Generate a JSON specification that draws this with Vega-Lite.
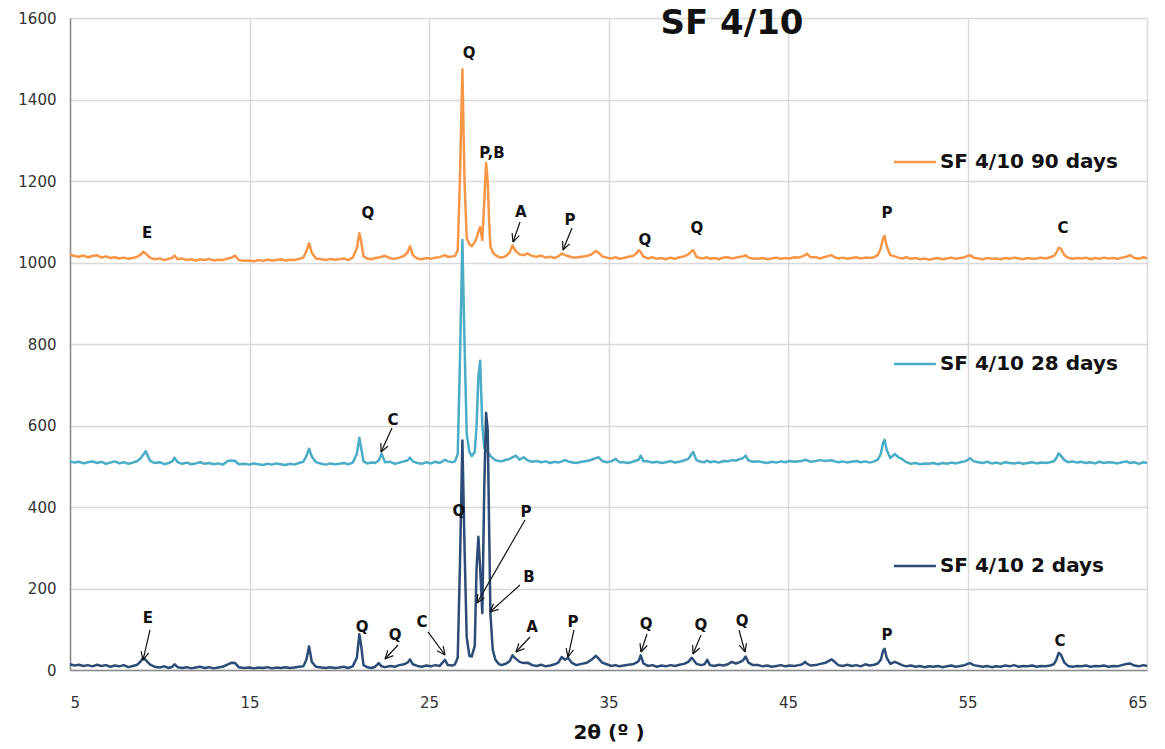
{
  "$schema": "https://vega.github.io/schema/vega-lite/v6.json",
  "width": 1077,
  "height": 652,
  "autosize": {"type": "none"},
  "padding": {"left": 70, "top": 18, "right": 18, "bottom": 79},
  "background": "white",
  "config": {"font": "DejaVu Sans", "view": {"stroke": null}},
  "datasets": {
    "xrd": [
      {"x":5.0,"a":14,"b":512,"c":1020},{"x":5.25,"a":11,"b":509,"c":1016},{"x":5.5,"a":13,"b":511,"c":1014},{"x":5.75,"a":10,"b":507,"c":1017},
      {"x":6.0,"a":12,"b":510,"c":1013},{"x":6.25,"a":9,"b":512,"c":1016},{"x":6.5,"a":13,"b":508,"c":1018},{"x":6.75,"a":10,"b":511,"c":1012},
      {"x":7.0,"a":12,"b":506,"c":1015},{"x":7.25,"a":8,"b":509,"c":1011},{"x":7.5,"a":11,"b":512,"c":1013},{"x":7.75,"a":9,"b":507,"c":1010},
      {"x":8.0,"a":12,"b":510,"c":1012},{"x":8.25,"a":7,"b":506,"c":1009},{"x":8.5,"a":10,"b":509,"c":1011},{"x":8.75,"a":13,"b":513,"c":1014},
      {"x":8.95,"a":22,"b":520,"c":1020},{"x":9.08,"a":30,"b":528,"c":1026},{"x":9.22,"a":24,"b":537,"c":1022},{"x":9.45,"a":14,"b":514,"c":1012},
      {"x":9.7,"a":8,"b":508,"c":1008},{"x":10.0,"a":6,"b":510,"c":1010},{"x":10.25,"a":9,"b":505,"c":1006},{"x":10.5,"a":5,"b":508,"c":1009},
      {"x":10.7,"a":8,"b":512,"c":1011},{"x":10.82,"a":14,"b":521,"c":1017},{"x":11.0,"a":7,"b":510,"c":1008},{"x":11.25,"a":5,"b":506,"c":1010},
      {"x":11.5,"a":7,"b":509,"c":1006},{"x":11.75,"a":4,"b":505,"c":1008},{"x":12.0,"a":6,"b":507,"c":1005},{"x":12.25,"a":8,"b":510,"c":1008},
      {"x":12.5,"a":5,"b":506,"c":1006},{"x":12.75,"a":7,"b":508,"c":1009},{"x":13.0,"a":4,"b":505,"c":1005},{"x":13.25,"a":6,"b":507,"c":1007},
      {"x":13.5,"a":8,"b":504,"c":1006},{"x":13.8,"a":14,"b":513,"c":1010},{"x":14.0,"a":18,"b":514,"c":1012},{"x":14.2,"a":17,"b":513,"c":1017},
      {"x":14.4,"a":7,"b":505,"c":1006},{"x":14.7,"a":5,"b":506,"c":1004},{"x":15.0,"a":6,"b":504,"c":1005},{"x":15.25,"a":4,"b":507,"c":1003},
      {"x":15.5,"a":6,"b":505,"c":1006},{"x":15.75,"a":5,"b":503,"c":1004},{"x":16.0,"a":7,"b":506,"c":1007},{"x":16.25,"a":4,"b":504,"c":1005},
      {"x":16.5,"a":6,"b":507,"c":1006},{"x":16.75,"a":5,"b":505,"c":1008},{"x":17.0,"a":7,"b":503,"c":1005},{"x":17.25,"a":5,"b":506,"c":1007},
      {"x":17.5,"a":6,"b":504,"c":1006},{"x":17.75,"a":8,"b":508,"c":1009},{"x":18.0,"a":9,"b":511,"c":1012},{"x":18.17,"a":25,"b":525,"c":1028},
      {"x":18.32,"a":58,"b":543,"c":1047},{"x":18.47,"a":20,"b":524,"c":1024},{"x":18.7,"a":8,"b":510,"c":1010},{"x":19.0,"a":6,"b":506,"c":1008},
      {"x":19.25,"a":5,"b":504,"c":1006},{"x":19.5,"a":7,"b":507,"c":1009},{"x":19.75,"a":5,"b":505,"c":1007},{"x":20.0,"a":6,"b":506,"c":1008},
      {"x":20.25,"a":8,"b":508,"c":1010},{"x":20.5,"a":5,"b":505,"c":1006},{"x":20.75,"a":9,"b":509,"c":1012},{"x":20.98,"a":30,"b":530,"c":1035},
      {"x":21.12,"a":88,"b":570,"c":1072},{"x":21.22,"a":60,"b":545,"c":1052},{"x":21.35,"a":12,"b":512,"c":1015},{"x":21.55,"a":7,"b":507,"c":1010},
      {"x":21.8,"a":5,"b":509,"c":1008},{"x":22.0,"a":8,"b":508,"c":1011},{"x":22.2,"a":17,"b":514,"c":1012},{"x":22.36,"a":9,"b":531,"c":1014},
      {"x":22.55,"a":7,"b":510,"c":1016},{"x":22.85,"a":10,"b":511,"c":1010},{"x":23.1,"a":8,"b":506,"c":1009},{"x":23.35,"a":12,"b":509,"c":1012},
      {"x":23.6,"a":14,"b":512,"c":1016},{"x":23.8,"a":18,"b":514,"c":1024},{"x":23.94,"a":26,"b":521,"c":1040},{"x":24.1,"a":14,"b":512,"c":1018},
      {"x":24.35,"a":10,"b":508,"c":1010},{"x":24.6,"a":8,"b":506,"c":1008},{"x":24.85,"a":11,"b":510,"c":1011},{"x":25.1,"a":9,"b":507,"c":1009},
      {"x":25.35,"a":12,"b":511,"c":1012},{"x":25.6,"a":10,"b":508,"c":1013},{"x":25.89,"a":25,"b":516,"c":1018},{"x":26.05,"a":12,"b":512,"c":1014},
      {"x":26.3,"a":11,"b":510,"c":1015},{"x":26.45,"a":14,"b":512,"c":1016},{"x":26.6,"a":30,"b":530,"c":1030},{"x":26.72,"a":250,"b":750,"c":1200},
      {"x":26.86,"a":563,"b":1055,"c":1474},{"x":26.98,"a":300,"b":800,"c":1200},{"x":27.1,"a":80,"b":580,"c":1060},{"x":27.25,"a":35,"b":535,"c":1045},
      {"x":27.38,"a":33,"b":525,"c":1040},{"x":27.55,"a":60,"b":535,"c":1050},{"x":27.65,"a":250,"b":600,"c":1060},{"x":27.75,"a":327,"b":720,"c":1075},
      {"x":27.85,"a":250,"b":759,"c":1087},{"x":27.97,"a":140,"b":600,"c":1055},{"x":28.08,"a":450,"b":545,"c":1150},{"x":28.18,"a":631,"b":540,"c":1244},
      {"x":28.27,"a":590,"b":535,"c":1200},{"x":28.35,"a":350,"b":530,"c":1100},{"x":28.42,"a":140,"b":525,"c":1040},{"x":28.55,"a":50,"b":520,"c":1025},
      {"x":28.7,"a":25,"b":515,"c":1018},{"x":28.9,"a":14,"b":513,"c":1013},
      {"x":29.05,"a":12,"b":512,"c":1012},{"x":29.3,"a":16,"b":516,"c":1016},{"x":29.5,"a":22,"b":518,"c":1025},{"x":29.65,"a":36,"b":522,"c":1042},
      {"x":29.83,"a":28,"b":526,"c":1028},{"x":30.05,"a":20,"b":516,"c":1020},{"x":30.27,"a":17,"b":522,"c":1018},{"x":30.5,"a":18,"b":514,"c":1022},
      {"x":30.75,"a":12,"b":511,"c":1016},{"x":31.0,"a":10,"b":513,"c":1014},{"x":31.25,"a":13,"b":510,"c":1017},{"x":31.5,"a":9,"b":512,"c":1012},
      {"x":31.75,"a":11,"b":508,"c":1014},{"x":32.0,"a":14,"b":511,"c":1011},{"x":32.2,"a":18,"b":509,"c":1015},{"x":32.4,"a":32,"b":512,"c":1022},
      {"x":32.58,"a":25,"b":515,"c":1018},{"x":32.74,"a":30,"b":512,"c":1016},{"x":32.95,"a":18,"b":510,"c":1013},{"x":33.2,"a":12,"b":508,"c":1012},
      {"x":33.5,"a":15,"b":511,"c":1014},{"x":33.8,"a":18,"b":513,"c":1016},{"x":34.05,"a":25,"b":516,"c":1020},{"x":34.3,"a":35,"b":520,"c":1028},
      {"x":34.45,"a":28,"b":522,"c":1024},{"x":34.65,"a":18,"b":513,"c":1015},{"x":34.9,"a":14,"b":510,"c":1012},{"x":35.15,"a":10,"b":512,"c":1010},
      {"x":35.4,"a":12,"b":518,"c":1013},{"x":35.6,"a":9,"b":510,"c":1009},{"x":35.85,"a":11,"b":510,"c":1011},{"x":36.1,"a":13,"b":508,"c":1014},
      {"x":36.35,"a":14,"b":511,"c":1016},{"x":36.55,"a":18,"b":514,"c":1022},{"x":36.68,"a":22,"b":516,"c":1030},{"x":36.79,"a":36,"b":526,"c":1026},
      {"x":36.95,"a":16,"b":512,"c":1014},{"x":37.2,"a":10,"b":512,"c":1010},{"x":37.45,"a":12,"b":509,"c":1013},{"x":37.7,"a":8,"b":511,"c":1009},
      {"x":37.95,"a":11,"b":508,"c":1011},{"x":38.2,"a":9,"b":510,"c":1008},{"x":38.45,"a":12,"b":513,"c":1012},{"x":38.7,"a":10,"b":509,"c":1009},
      {"x":38.95,"a":13,"b":511,"c":1013},{"x":39.2,"a":15,"b":514,"c":1015},{"x":39.45,"a":20,"b":518,"c":1020},{"x":39.63,"a":30,"b":530,"c":1028},
      {"x":39.72,"a":26,"b":535,"c":1030},{"x":39.9,"a":15,"b":515,"c":1014},{"x":40.15,"a":12,"b":511,"c":1010},{"x":40.35,"a":14,"b":510,"c":1011},
      {"x":40.5,"a":25,"b":514,"c":1013},{"x":40.65,"a":12,"b":510,"c":1009},{"x":40.9,"a":10,"b":512,"c":1011},{"x":41.15,"a":13,"b":509,"c":1008},
      {"x":41.4,"a":11,"b":513,"c":1012},{"x":41.65,"a":14,"b":512,"c":1013},{"x":41.86,"a":20,"b":515,"c":1010},{"x":42.1,"a":16,"b":514,"c":1012},
      {"x":42.35,"a":20,"b":518,"c":1014},{"x":42.5,"a":24,"b":520,"c":1015},{"x":42.64,"a":33,"b":526,"c":1018},{"x":42.8,"a":18,"b":514,"c":1012},
      {"x":43.05,"a":12,"b":511,"c":1010},{"x":43.35,"a":12,"b":512,"c":1009},{"x":43.6,"a":9,"b":510,"c":1011},{"x":43.85,"a":11,"b":508,"c":1008},
      {"x":44.1,"a":8,"b":511,"c":1010},{"x":44.35,"a":10,"b":509,"c":1012},{"x":44.6,"a":12,"b":512,"c":1009},{"x":44.85,"a":9,"b":510,"c":1011},
      {"x":45.1,"a":11,"b":513,"c":1010},{"x":45.35,"a":10,"b":511,"c":1013},{"x":45.6,"a":12,"b":512,"c":1012},{"x":45.8,"a":14,"b":513,"c":1015},
      {"x":45.95,"a":20,"b":516,"c":1018},{"x":46.04,"a":16,"b":515,"c":1022},{"x":46.25,"a":11,"b":511,"c":1013},{"x":46.55,"a":12,"b":513,"c":1013},
      {"x":46.8,"a":15,"b":515,"c":1010},{"x":47.1,"a":18,"b":513,"c":1014},{"x":47.43,"a":26,"b":515,"c":1018},{"x":47.6,"a":20,"b":512,"c":1013},
      {"x":47.8,"a":12,"b":510,"c":1010},{"x":48.05,"a":10,"b":512,"c":1012},{"x":48.3,"a":13,"b":509,"c":1009},{"x":48.55,"a":10,"b":511,"c":1011},
      {"x":48.8,"a":12,"b":513,"c":1013},{"x":49.05,"a":9,"b":510,"c":1010},{"x":49.3,"a":14,"b":512,"c":1012},{"x":49.55,"a":11,"b":509,"c":1011},
      {"x":49.8,"a":13,"b":512,"c":1013},{"x":50.0,"a":16,"b":516,"c":1018},{"x":50.17,"a":25,"b":530,"c":1035},{"x":50.3,"a":48,"b":558,"c":1060},
      {"x":50.38,"a":52,"b":565,"c":1065},{"x":50.5,"a":30,"b":540,"c":1040},{"x":50.7,"a":15,"b":520,"c":1018},{"x":50.95,"a":20,"b":530,"c":1015},
      {"x":51.15,"a":16,"b":522,"c":1012},{"x":51.35,"a":12,"b":518,"c":1010},{"x":51.6,"a":9,"b":510,"c":1013},{"x":51.85,"a":11,"b":506,"c":1009},
      {"x":52.1,"a":8,"b":508,"c":1011},{"x":52.35,"a":10,"b":505,"c":1008},{"x":52.6,"a":7,"b":507,"c":1010},{"x":52.85,"a":9,"b":506,"c":1007},
      {"x":53.1,"a":8,"b":508,"c":1009},{"x":53.35,"a":10,"b":505,"c":1011},{"x":53.6,"a":7,"b":508,"c":1008},{"x":53.85,"a":9,"b":506,"c":1010},
      {"x":54.1,"a":11,"b":509,"c":1012},{"x":54.35,"a":8,"b":507,"c":1009},{"x":54.6,"a":10,"b":510,"c":1011},{"x":54.85,"a":12,"b":512,"c":1013},
      {"x":55.0,"a":15,"b":515,"c":1016},{"x":55.14,"a":17,"b":520,"c":1018},{"x":55.35,"a":12,"b":512,"c":1012},{"x":55.6,"a":10,"b":510,"c":1010},
      {"x":55.85,"a":8,"b":508,"c":1008},{"x":56.1,"a":10,"b":511,"c":1011},{"x":56.35,"a":7,"b":507,"c":1009},{"x":56.6,"a":9,"b":509,"c":1010},
      {"x":56.85,"a":8,"b":506,"c":1008},{"x":57.1,"a":11,"b":510,"c":1011},{"x":57.35,"a":9,"b":508,"c":1009},{"x":57.6,"a":12,"b":507,"c":1012},
      {"x":57.85,"a":8,"b":509,"c":1010},{"x":58.1,"a":10,"b":506,"c":1008},{"x":58.35,"a":9,"b":508,"c":1011},{"x":58.6,"a":11,"b":510,"c":1009},
      {"x":58.85,"a":8,"b":507,"c":1010},{"x":59.1,"a":10,"b":509,"c":1012},{"x":59.35,"a":9,"b":508,"c":1010},{"x":59.6,"a":11,"b":510,"c":1013},
      {"x":59.8,"a":14,"b":512,"c":1016},{"x":59.95,"a":25,"b":520,"c":1024},{"x":60.08,"a":42,"b":532,"c":1036},{"x":60.2,"a":38,"b":526,"c":1034},
      {"x":60.4,"a":18,"b":515,"c":1018},{"x":60.6,"a":10,"b":510,"c":1012},{"x":60.85,"a":8,"b":512,"c":1009},{"x":61.1,"a":10,"b":509,"c":1011},
      {"x":61.35,"a":9,"b":511,"c":1010},{"x":61.6,"a":11,"b":508,"c":1012},{"x":61.85,"a":8,"b":510,"c":1008},{"x":62.1,"a":10,"b":507,"c":1011},
      {"x":62.35,"a":9,"b":511,"c":1009},{"x":62.6,"a":11,"b":508,"c":1012},{"x":62.85,"a":8,"b":510,"c":1010},{"x":63.1,"a":10,"b":509,"c":1011},
      {"x":63.35,"a":9,"b":507,"c":1009},{"x":63.6,"a":12,"b":510,"c":1012},{"x":63.85,"a":15,"b":512,"c":1014},{"x":64.05,"a":16,"b":508,"c":1018},
      {"x":64.3,"a":11,"b":510,"c":1011},{"x":64.55,"a":9,"b":506,"c":1009},{"x":64.8,"a":12,"b":510,"c":1013},{"x":65.0,"a":10,"b":508,"c":1010}
    ],
    "arrows": [
      {"x":9.457,"y":98.2,"x2":9.067,"y2":24.5},{"x":9.067,"y":24.5,"x2":9.379,"y2":42.0},{"x":9.067,"y":24.5,"x2":8.961,"y2":46.1},
      {"x":23.273,"y":61.4,"x2":22.549,"y2":27.0},{"x":22.549,"y":27.0,"x2":23.011,"y2":35.3},{"x":22.549,"y":27.0,"x2":22.705,"y2":48.1},
      {"x":24.944,"y":93.3,"x2":25.891,"y2":36.8},{"x":25.891,"y":36.8,"x2":25.791,"y2":58.4},{"x":25.891,"y":36.8,"x2":25.451,"y2":47.4},
      {"x":30.348,"y":368.1,"x2":27.674,"y2":164.4},{"x":27.674,"y":164.4,"x2":28.086,"y2":177.2},{"x":27.674,"y":164.4,"x2":27.719,"y2":186.5},
      {"x":30.070,"y":208.6,"x2":28.398,"y2":142.3},{"x":28.398,"y":142.3,"x2":28.878,"y2":148.7},{"x":28.398,"y":142.3,"x2":28.594,"y2":162.7},
      {"x":30.627,"y":81.0,"x2":29.847,"y2":44.2},{"x":29.847,"y":44.2,"x2":30.315,"y2":52.5},{"x":29.847,"y":44.2,"x2":30.003,"y2":65.3},
      {"x":33.078,"y":98.2,"x2":32.744,"y2":31.9},{"x":32.744,"y":31.9,"x2":33.050,"y2":49.3},{"x":32.744,"y":31.9,"x2":32.638,"y2":53.5},
      {"x":37.144,"y":88.3,"x2":36.810,"y2":44.2},{"x":36.810,"y":44.2,"x2":37.156,"y2":60.1},{"x":36.810,"y":44.2,"x2":36.755,"y2":66.0},
      {"x":40.153,"y":85.9,"x2":39.707,"y2":39.3},{"x":39.707,"y":39.3,"x2":40.081,"y2":54.0},{"x":39.707,"y":39.3,"x2":39.690,"y2":61.4},
      {"x":42.270,"y":98.2,"x2":42.604,"y2":44.2},{"x":42.604,"y":44.2,"x2":42.688,"y2":66.0},{"x":42.604,"y":44.2,"x2":42.281,"y2":61.1},
      {"x":22.939,"y":593.9,"x2":22.326,"y2":535.0},{"x":22.326,"y":535.0,"x2":22.710,"y2":549.2},{"x":22.326,"y":535.0,"x2":22.320,"y2":557.1},
      {"x":30.070,"y":1099.4,"x2":29.680,"y2":1050.3},{"x":29.680,"y":1050.3,"x2":30.031,"y2":1066.0},{"x":29.680,"y":1050.3,"x2":29.629,"y2":1072.2},
      {"x":32.966,"y":1084.7,"x2":32.465,"y2":1030.7},{"x":32.465,"y":1030.7,"x2":32.833,"y2":1045.7},{"x":32.465,"y":1030.7,"x2":32.443,"y2":1052.8}
    ],
    "labels": [
      {"x":9.345,"y":127.6,"t":"E"},{"x":21.27,"y":105.5,"t":"Q"},{"x":23.11,"y":85.9,"t":"Q"},{"x":24.61,"y":117.8,"t":"C"},
      {"x":26.67,"y":390.2,"t":"Q"},{"x":30.40,"y":387.7,"t":"P"},{"x":30.57,"y":228.2,"t":"B"},{"x":30.74,"y":105.5,"t":"A"},
      {"x":33.02,"y":117.8,"t":"P"},{"x":37.09,"y":112.9,"t":"Q"},{"x":40.15,"y":110.4,"t":"Q"},{"x":42.44,"y":120.2,"t":"Q"},
      {"x":50.51,"y":85.9,"t":"P"},{"x":60.15,"y":71.2,"t":"C"},{"x":22.99,"y":613.5,"t":"C"},
      {"x":9.29,"y":1072.4,"t":"E"},{"x":21.60,"y":1121.5,"t":"Q"},{"x":27.23,"y":1514.1,"t":"Q"},{"x":28.51,"y":1268.7,"t":"P,B"},
      {"x":30.12,"y":1123.9,"t":"A"},{"x":32.86,"y":1104.3,"t":"P"},{"x":37.03,"y":1055.2,"t":"Q"},{"x":39.93,"y":1084.7,"t":"Q"},
      {"x":50.51,"y":1121.5,"t":"P"},{"x":60.32,"y":1084.7,"t":"C"}
    ],
    "keys": [
      {"s":"c","x":50.9,"x2":53.24,"y":1246.6,"t":"SF 4/10 90 days"},
      {"s":"b","x":50.9,"x2":53.24,"y":751.0,"t":"SF 4/10 28 days"},
      {"s":"a","x":50.9,"x2":53.24,"y":255.2,"t":"SF 4/10 2 days"}
    ],
    "title": [{"x":41.88,"y":1585,"t":"SF 4/10"}]
  },
  "layer": [
    {
      "data": {"name": "xrd"},
      "transform": [{"fold": ["c", "b", "a"], "as": ["s", "v"]}],
      "mark": {"type": "line", "strokeWidth": 2.5, "strokeJoin": "round"},
      "encoding": {
        "x": {"field": "x", "type": "quantitative",
          "scale": {"domain": [5, 65], "nice": false, "zero": false},
          "axis": {"values": [5, 15, 25, 35, 45, 55, 65], "title": "2θ (º )", "grid": true, "gridColor": "#d9d9d9", "gridWidth": 1.5,
            "domainColor": "#8c8c8c", "domainWidth": 1.5, "ticks": false, "tickSize": 0, "labelPadding": 25, "labelFontSize": 15, "labelColor": "#333333",
            "labelFont": "DejaVu Sans", "titleFont": "DejaVu Sans", "titleFontSize": 20, "titleFontWeight": "bold", "titleColor": "#111111", "titlePadding": 12}},
        "y": {"field": "v", "type": "quantitative",
          "scale": {"domain": [0, 1600], "nice": false},
          "axis": {"values": [0, 200, 400, 600, 800, 1000, 1200, 1400, 1600], "format": "d", "title": null, "grid": true, "gridColor": "#d9d9d9", "gridWidth": 1.5,
            "domainColor": "#8c8c8c", "domainWidth": 1.5, "ticks": false, "tickSize": 0, "labelPadding": 14, "labelFontSize": 15, "labelColor": "#333333",
            "labelFont": "DejaVu Sans"}},
        "color": {"field": "s", "type": "nominal",
          "scale": {"domain": ["a", "b", "c"], "range": ["#2c4c77", "#4bacc6", "#f79646"]}, "legend": null},
        "order": {"field": "x", "type": "quantitative"}
      }
    },
    {
      "data": {"name": "arrows"},
      "mark": {"type": "rule", "color": "#111111", "strokeWidth": 1.2},
      "encoding": {
        "x": {"field": "x", "type": "quantitative"},
        "y": {"field": "y", "type": "quantitative"},
        "x2": {"field": "x2"},
        "y2": {"field": "y2"}
      }
    },
    {
      "data": {"name": "labels"},
      "mark": {"type": "text", "fontWeight": "bold", "fontSize": 15, "color": "#111111", "align": "center", "baseline": "middle", "font": "DejaVu Sans"},
      "encoding": {
        "x": {"field": "x", "type": "quantitative"},
        "y": {"field": "y", "type": "quantitative"},
        "text": {"field": "t"}
      }
    },
    {
      "data": {"name": "keys"},
      "mark": {"type": "rule", "strokeWidth": 2.5},
      "encoding": {
        "x": {"field": "x", "type": "quantitative"},
        "x2": {"field": "x2"},
        "y": {"field": "y", "type": "quantitative"},
        "color": {"field": "s", "type": "nominal", "legend": null}
      }
    },
    {
      "data": {"name": "keys"},
      "mark": {"type": "text", "fontWeight": "bold", "fontSize": 20, "color": "#111111", "align": "left", "baseline": "middle", "dx": 4, "font": "DejaVu Sans"},
      "encoding": {
        "x": {"field": "x2", "type": "quantitative"},
        "y": {"field": "y", "type": "quantitative"},
        "text": {"field": "t"}
      }
    },
    {
      "data": {"name": "title"},
      "mark": {"type": "text", "fontWeight": "bold", "fontSize": 34, "color": "#111111", "align": "center", "baseline": "middle", "font": "DejaVu Sans"},
      "encoding": {
        "x": {"field": "x", "type": "quantitative"},
        "y": {"field": "y", "type": "quantitative"},
        "text": {"field": "t"}
      }
    }
  ]
}
